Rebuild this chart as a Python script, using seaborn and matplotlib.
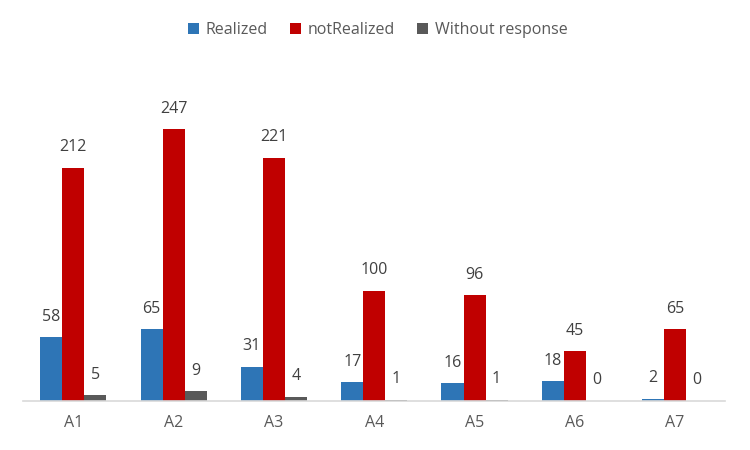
import matplotlib
matplotlib.use("Agg")
import matplotlib.pyplot as plt
import seaborn as sns
import pandas as pd
import numpy as np

categories = ["A1", "A2", "A3", "A4", "A5", "A6", "A7"]
realized = [58, 65, 31, 17, 16, 18, 2]
not_realized = [212, 247, 221, 100, 96, 45, 65]
without_response = [5, 9, 4, 1, 1, 0, 0]
series_names = ["Realized", "notRealized", "Without response"]
colors = ["#2E75B6", "#C00000", "#595959"]

rows = []
for name, vals in zip(series_names, [realized, not_realized, without_response]):
    for c, v in zip(categories, vals):
        rows.append({"cat": c, "series": name, "value": v})
df = pd.DataFrame(rows)

sns.set_theme(style="white")
plt.rcParams["font.family"] = ["Open Sans", "DejaVu Sans"]

fig = plt.figure(figsize=(7.5, 4.5), dpi=100)
ax = fig.add_axes([0.031, 0.109, 0.936, 0.733])
sns.barplot(data=df, x="cat", y="value", hue="series", palette=colors,
            hue_order=series_names, order=categories, width=0.66,
            saturation=1, linewidth=0, ax=ax, legend=True)

for cont in ax.containers:
    ax.bar_label(cont, padding=9, fontsize=11.5, color="#404040")

ax.set_ylim(0, 300)
ax.set_xlim(-0.5, len(categories) - 0.5)
ax.set_xlabel("")
ax.set_ylabel("")
ax.set_yticks([])
for s in ["top", "right", "left"]:
    ax.spines[s].set_visible(False)
ax.spines["bottom"].set_color("#D9D9D9")
ax.spines["bottom"].set_linewidth(1.2)
ax.tick_params(axis="x", which="major", length=0, labelsize=11.5, labelcolor="#595959", pad=10)
ax.set_xticks(np.arange(-0.5, len(categories)), minor=True)
ax.tick_params(axis="x", which="minor", length=5, color="#D9D9D9", width=1.2, direction="out")

handles, labels = ax.get_legend_handles_labels()
ax.legend(handles, labels, loc="center", bbox_to_anchor=(0.505, 1.124), ncol=3,
          frameon=False, fontsize=11.5, labelcolor="#595959", handlelength=0.7,
          handleheight=0.7, handletextpad=0.4, columnspacing=1.4)

fig.savefig("out.png", dpi=100)
